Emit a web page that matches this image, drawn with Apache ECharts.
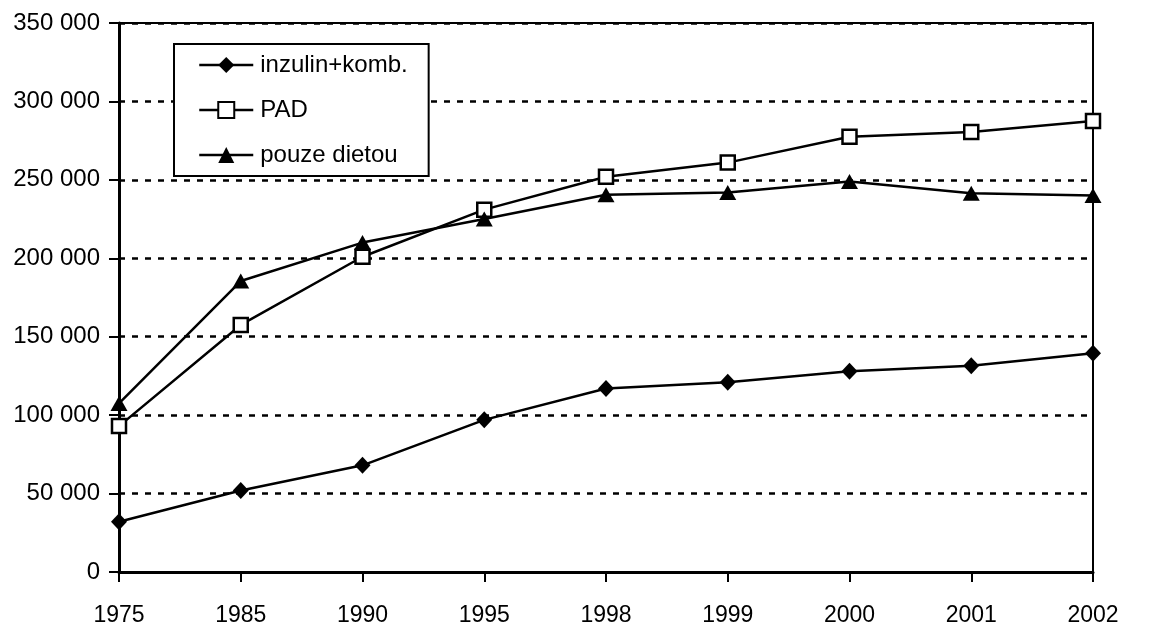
<!DOCTYPE html>
<html>
<head>
<meta charset="utf-8">
<script src="https://cdn.jsdelivr.net/npm/echarts@6/dist/echarts.min.js"></script>
<style>
    html, body { margin: 0; padding: 0; background: #fff; }
    #chart { width: 1151px; height: 628px; }
</style>
</head>
<body>
<div id="chart"></div>
<script>
// data
var years = ['1975', '1985', '1990', '1995', '1998', '1999', '2000', '2001', '2002'];
var inzulin = [32000, 52000, 68000, 97000, 117000, 121000, 128000, 131500, 139500];
var pad = [93000, 157500, 201000, 231000, 252000, 261000, 277500, 280500, 287500];
var dieta = [107500, 185500, 210000, 225000, 240500, 242000, 249000, 241500, 240000];
var names = ['inzulin+komb.', 'PAD', 'pouze dietou'];

var font = 'Liberation Sans, Arial, sans-serif';

function fmt(v) {
    return String(v).replace(/\B(?=(\d{3})+(?!\d))/g, ' ');
}

function makeSeries(name, data, symbol, size, fill) {
    return {
        name: name,
        type: 'line',
        data: data,
        symbol: symbol,
        symbolSize: size,
        showAllSymbol: true,
        lineStyle: { color: '#000', width: 2.5 },
        itemStyle: { color: fill, borderColor: '#000', borderWidth: fill === '#fff' ? 2.5 : 0 },
        emphasis: { disabled: true },
        z: 5
    };
}

var chart = echarts.init(document.getElementById('chart'));
chart.setOption({
    animation: false,
    backgroundColor: '#fff',
    grid: {
        left: 119,
        right: 58,
        top: 23,
        bottom: 56,
        show: true,
        borderColor: '#000',
        borderWidth: 2
    },
    legend: {
        orient: 'vertical',
        left: 174,
        top: 44,
        data: names,
        itemWidth: 54,
        itemHeight: 20,
        itemGap: 21,
        padding: [9, 21, 9, 24],
        backgroundColor: '#fff',
        borderColor: '#000',
        borderWidth: 2,
        borderRadius: 0,
        lineStyle: { width: 2.5 },
        textStyle: { fontFamily: font, fontSize: 24, color: '#000', padding: [0, 0, 0, 2] },
        z: 10
    },
    xAxis: {
        type: 'category',
        boundaryGap: false,
        data: years,
        axisLine: { lineStyle: { color: '#000', width: 3 } },
        axisTick: { show: true, length: 10, lineStyle: { color: '#000', width: 2 } },
        axisLabel: { fontFamily: font, fontSize: 23, color: '#000', margin: 32 },
        splitLine: { show: false }
    },
    yAxis: {
        type: 'value',
        min: 0,
        max: 350000,
        interval: 50000,
        axisLine: { show: true, lineStyle: { color: '#000', width: 3 } },
        axisTick: { show: true, length: 10, lineStyle: { color: '#000', width: 2 } },
        axisLabel: { fontFamily: font, fontSize: 24, color: '#000', margin: 19, formatter: fmt },
        splitLine: { show: true, lineStyle: { color: '#000', width: 2.5, type: [6, 7] } }
    },
    series: [
        makeSeries(names[0], inzulin, 'diamond', [16, 17], '#000'),
        makeSeries(names[1], pad, 'rect', 14, '#fff'),
        makeSeries(names[2], dieta, 'triangle', [17, 15], '#000')
    ]
});
</script>
</body>
</html>
